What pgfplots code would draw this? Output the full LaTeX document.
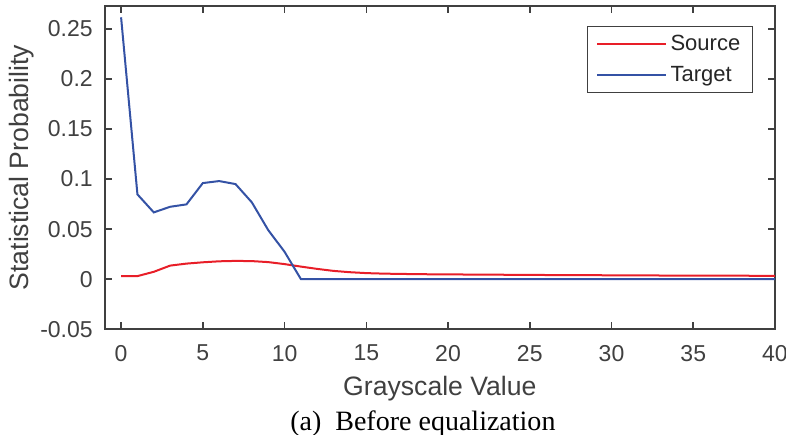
\documentclass[border=0pt]{standalone}
\usepackage{fontspec}
\setmainfont{Liberation Sans}
\newfontfamily\capfont{Liberation Serif}
\usepackage{pgfplots}
\pgfplotsset{compat=1.18}
\definecolor{srcred}{RGB}{232,30,40}
\definecolor{tgtblue}{RGB}{52,82,165}
\definecolor{axgray}{RGB}{64,64,64}
\begin{document}
\begin{tikzpicture}
\begin{axis}[
  scale only axis,
  width=335pt, height=161.5pt,
  at={(0pt,0pt)}, anchor=south west,
  xmin=-1, xmax=40, ymin=-0.05, ymax=0.273,
  xtick={0,5,...,40},
  ytick={-0.05,0,0.05,0.1,0.15,0.2,0.25},
  yticklabels={-0.05,0,0.05,0.1,0.15,0.2,0.25},
  scaled y ticks=false,
  /pgf/number format/assume math mode=true,
  tick align=inside,
  major tick length=3.5pt,
  axis line style={axgray, line width=0.8pt},
  every tick/.style={axgray, line width=0.8pt},
  ticklabel style={font=\fontsize{11.5}{13}\selectfont, text=axgray},
  xticklabel style={anchor=center, yshift=-12pt},
  yticklabel style={anchor=east, inner sep=0pt, xshift=-5.8pt},
  xlabel={Grayscale Value},
  ylabel={Statistical Probability},
  label style={font=\fontsize{13.3}{15}\selectfont, text=axgray},
  xlabel style={at={(axis description cs:0.5,0)}, anchor=center, yshift=-29.5pt},
  ylabel style={at={(axis description cs:0,0.5)}, anchor=center, yshift=41.4pt},
  legend style={at={(axis description cs:1,1)}, anchor=north east, xshift=-10.8pt, yshift=-10pt,
    draw=axgray, line width=0.6pt, font=\fontsize{11}{13}\selectfont, text=black!85,
    inner xsep=4.5pt, inner ysep=1pt, row sep=0pt,
    nodes={inner xsep=1.75pt, inner ysep=1.2pt, text height=9.8pt, text depth=3.2pt}},
  legend cell align=left,
  legend image code/.code={\draw[#1, line width=0.8pt] (0pt,0pt) -- (34.5pt,0pt);},
  clip=true,
]
\addplot[srcred, line width=1pt] coordinates {
(0,0.003)(1,0.003)(2,0.0073)(3,0.0135)(4,0.0155)(5,0.0168)(6,0.0178)(7,0.0182)(8,0.018)(9,0.017)
(10,0.015)(11,0.0125)(12,0.0102)(13,0.0082)(14,0.0069)(15,0.006)(16,0.0055)(17,0.0052)(18,0.005)(19,0.0048)
(20,0.0047)(21,0.0046)(22,0.0045)(23,0.0044)(24,0.0043)(25,0.0042)(26,0.0041)(27,0.004)(28,0.0039)(29,0.0039)
(30,0.0038)(31,0.0037)(32,0.0037)(33,0.0036)(34,0.0036)(35,0.0035)(36,0.0035)(37,0.0034)(38,0.0034)(39,0.0033)(40,0.0033)
};
\addlegendentry{Source}
\addplot[tgtblue, line width=1pt] coordinates {
(0,0.2617)(1,0.0847)(2,0.0667)(3,0.0723)(4,0.0747)(5,0.096)(6,0.098)(7,0.095)(8,0.0767)(9,0.049)
(10,0.0273)(11,0)(12,0)(13,0)(14,0)(15,0)(16,0)(17,0)(18,0)(19,0)(20,0)(21,0)(22,0)(23,0)(24,0)(25,0)
(26,0)(27,0)(28,0)(29,0)(30,0)(31,0)(32,0)(33,0)(34,0)(35,0)(36,0)(37,0)(38,0)(39,0)(40,0)
};
\addlegendentry{Target}
\end{axis}
\node[font=\capfont\fontsize{14}{16}\selectfont, anchor=center] at (159pt,-47pt) {(a)\ \ Before equalization};
\pgfresetboundingbox
\path (-52.35pt,-52.5pt) rectangle (340.5pt,164.5pt);
\end{tikzpicture}
\end{document}
